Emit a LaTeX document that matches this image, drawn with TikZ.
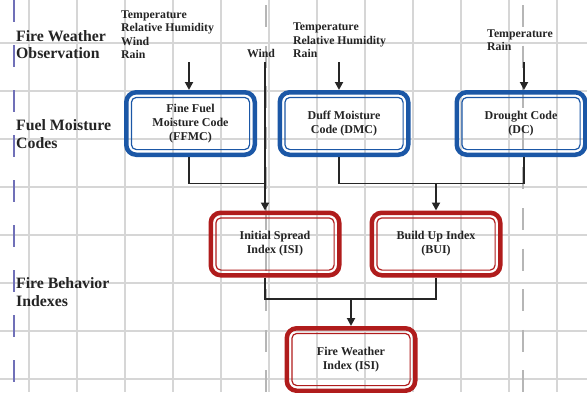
\documentclass[tikz,border=0pt]{standalone}
\usepackage{fontspec}
\setmainfont{Liberation Serif}
\usetikzlibrary{arrows.meta,positioning}

\definecolor{codeblue}{RGB}{27,87,166}
\definecolor{indexred}{RGB}{176,28,28}
\definecolor{gridgray}{RGB}{214,214,214}
\definecolor{lanepurple}{RGB}{112,112,184}
\definecolor{textgray}{RGB}{36,36,36}

\begin{document}
\begin{tikzpicture}[
    x=1pt, y=-1pt,
    codebox/.style={rectangle, draw=codeblue, line width=4.5pt, rounded corners=10pt, minimum width=128.5pt, minimum height=62.5pt, align=center, font=\bfseries\fontsize{12}{14}\selectfont, text=textgray},
    indexbox/.style={codebox, draw=indexred},
    innerline/.style={line width=1.2pt, rounded corners=5pt},
    lanelabel/.style={anchor=west, align=left, inner sep=0pt, font=\bfseries\fontsize{15.8}{17.5}\selectfont, text=textgray},
    inputlabel/.style={align=left, inner sep=0pt, font=\bfseries\fontsize{11.8}{13.5}\selectfont, text=textgray},
    gridline/.style={draw=gridgray, line width=1.2pt},
    link/.style={line width=1.9pt, draw=black!85},
    arrow/.style={link, -{Triangle[length=8pt,width=8pt]}}
]
\useasboundingbox (0,0) rectangle (587,392);

% Background grid
\foreach \gx in {29,77,...,557} \draw[gridline] (\gx,0) -- (\gx,392);
\foreach \gy in {43,91,...,379} \draw[gridline] (0,\gy) -- (587,\gy);
\draw[lanepurple, line width=1.5pt, dash pattern=on 22pt off 23pt] (14,0) -- (14,392);
\foreach \lx in {266,523} \draw[gridgray!85!black, line width=1.2pt, dash pattern=on 22pt off 18.6pt] (\lx,5) -- (\lx,392);

% Row labels
\node[lanelabel] (observation) at (16,44.5) {Fire Weather\\Observation};
\node[lanelabel] (moisture) at (16,134) {Fuel Moisture\\Codes};
\node[lanelabel] (behavior) at (16,292) {Fire Behavior\\Indexes};

% Weather inputs
\node[inputlabel, anchor=west] (obs1) at (121,34.5) {Temperature\\Relative Humidity\\Wind\\Rain};
\node[inputlabel, anchor=west] (obs2) at (293,40.5) {Temperature\\Relative Humidity\\Rain};
\node[inputlabel, anchor=west] (obs3) at (487,40) {Temperature\\Rain};
\node[inputlabel] (windlabel) at (261,53) {Wind};

\coordinate (in1) at (189,62);
\coordinate (wind) at (265,62);
\coordinate (in2) at (339,62);
\coordinate (in3) at (524,62);

% Moisture codes
\node[codebox] (ffmc) at (190.5,123.5) {Fine Fuel\\Moisture Code\\(FFMC)};
\node[codebox] (dmc) at (344,123.5) {Duff Moisture\\Code (DMC)};
\node[codebox] (dc) at (521,123.5) {Drought Code\\(DC)};

% Behavior indexes
\node[indexbox] (isi) at (275,244) {Initial Spread\\Index (ISI)};
\node[indexbox] (bui) at (436,244) {Build Up Index\\(BUI)};
\node[indexbox] (fwi) at (351,359.5) {Fire Weather\\Index (ISI)};

\foreach \n in {ffmc,dmc,dc}
  \draw[innerline, codeblue] ([shift={(7.4pt,7.4pt)}]\n.south west) rectangle ([shift={(-7.4pt,-7.4pt)}]\n.north east);
\foreach \n in {isi,bui,fwi}
  \draw[innerline, indexred] ([shift={(7.4pt,7.4pt)}]\n.south west) rectangle ([shift={(-7.4pt,-7.4pt)}]\n.north east);

% Arrows
\draw[arrow] (in1) -- (in1 |- ffmc.north);
\draw[arrow] (in2) -- (in2 |- dmc.north);
\draw[arrow] (in3) -- (in3 |- dc.north);
\draw[arrow] (wind) -- (wind |- isi.north);

\coordinate (codejoin) at (437,183.5);
\draw[link] (in1 |- ffmc.south) |- (wind |- codejoin);
\draw[link] (in2 |- dmc.south) |- (in3 |- codejoin) -- (in3 |- dc.south);
\draw[arrow] (bui.north |- codejoin) -- (bui.north);

\coordinate (indexjoin) at (352,299);
\draw[link] (wind |- isi.south) |- (bui.south |- indexjoin) -- (bui.south);
\draw[arrow] (fwi.north |- indexjoin) -- (fwi.north);

\end{tikzpicture}
\end{document}
